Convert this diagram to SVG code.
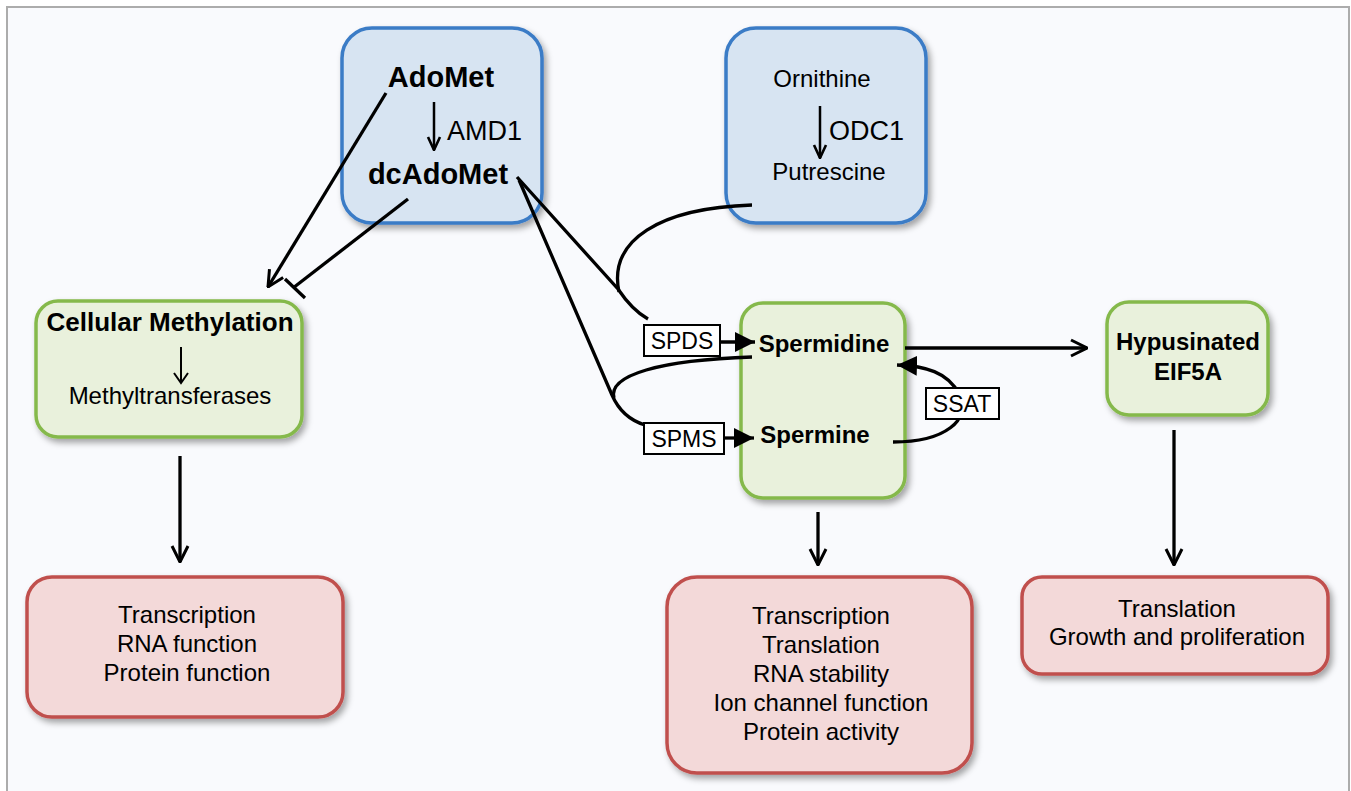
<svg xmlns="http://www.w3.org/2000/svg" width="1351" height="791" viewBox="0 0 1351 791">
<defs>
<filter id="sh" x="-10%" y="-10%" width="125%" height="130%"><feDropShadow dx="3" dy="4" stdDeviation="3" flood-color="#000" flood-opacity="0.35"/></filter>
<marker id="open" viewBox="0 0 20 20" refX="19" refY="10" markerWidth="20" markerHeight="20" orient="auto" markerUnits="userSpaceOnUse"><path d="M3,2 L19,10 L3,18" fill="none" stroke="#000" stroke-width="3" stroke-linejoin="miter"/></marker>
<marker id="openS" viewBox="0 0 16 16" refX="15" refY="8" markerWidth="16" markerHeight="16" orient="auto" markerUnits="userSpaceOnUse"><path d="M2,2 L15,8 L2,14" fill="none" stroke="#000" stroke-width="2.6" stroke-linejoin="miter"/></marker>
<marker id="fill" viewBox="0 0 20 20" refX="20" refY="10" markerWidth="20" markerHeight="20" orient="auto" markerUnits="userSpaceOnUse"><path d="M0,0 L20,10 L0,20 z" fill="#000"/></marker>
</defs>
<style>
.blue{fill:#d7e4f2;stroke:#3b7bc6;stroke-width:3.5}
.green{fill:#e9f1dc;stroke:#85b94b;stroke-width:3.5}
.red{fill:#f3d9d9;stroke:#c0504d;stroke-width:3.5}
.lab{fill:#fff;stroke:#000;stroke-width:2}
text{font-family:"Liberation Sans",Arial,sans-serif;fill:#000}
.t{font-size:24px;text-anchor:middle}
.b{font-size:24px;font-weight:bold;text-anchor:middle}
.big{font-size:29px;font-weight:bold;text-anchor:middle}
.en{font-size:27px}
.sm{font-size:23px;text-anchor:middle}
.c{fill:none;stroke:#000;stroke-width:3.3}
.ci{fill:none;stroke:#000;stroke-width:2.5}
</style>
<rect x="7" y="7" width="1342" height="800" fill="#f9fafd" stroke="#acacac" stroke-width="2"/>

<g id="adomet" filter="url(#sh)">
<rect class="blue" x="342" y="28" width="200" height="195" rx="30"/>
</g>
<g id="adomet-text">
<text class="big" x="441" y="87">AdoMet</text>
<text class="big" x="438" y="184">dcAdoMet</text>
<text class="en" x="447" y="140">AMD1</text>
<path class="ci" d="M434 102 L434 150" marker-end="url(#openS)"/>
</g>

<g id="ornithine" filter="url(#sh)">
<rect class="blue" x="726" y="28" width="200" height="195" rx="30"/>
</g>
<g id="ornithine-text">
<text class="t" x="822" y="87">Ornithine</text>
<text class="t" x="829" y="180">Putrescine</text>
<text class="en" x="829" y="140">ODC1</text>
<path class="ci" d="M820 106 L820 158" marker-end="url(#openS)"/>
</g>

<g id="methylation">
<rect class="green" x="36" y="301" width="266" height="136" rx="22" filter="url(#sh)"/>
<text class="b" x="170" y="331" style="font-size:26px">Cellular Methylation</text>
<path fill="none" stroke="#000" stroke-width="2" d="M181 347 L181 382"/>
<path fill="none" stroke="#000" stroke-width="2" d="M174 373 L181 383 L188 373"/>
<text class="t" x="170" y="404">Methyltransferases</text>
</g>

<g id="spermidine">
<rect class="green" x="741" y="303" width="164" height="195" rx="22" filter="url(#sh)"/>
<text class="b" x="824" y="352">Spermidine</text>
<text class="b" x="815" y="443">Spermine</text>
</g>

<g id="eif5a">
<rect class="green" x="1107" y="302" width="161" height="113" rx="22" filter="url(#sh)"/>
<text class="b" x="1188" y="350">Hypusinated</text>
<text class="b" x="1188" y="380">EIF5A</text>
</g>

<g id="out-left">
<rect class="red" x="27" y="577" width="316" height="140" rx="25" filter="url(#sh)"/>
<text class="t" x="187" y="623">Transcription</text>
<text class="t" x="187" y="652">RNA function</text>
<text class="t" x="187" y="681">Protein function</text>
</g>

<g id="out-mid">
<rect class="red" x="667" y="577" width="305" height="196" rx="30" filter="url(#sh)"/>
<text class="t" x="821" y="624">Transcription</text>
<text class="t" x="821" y="653">Translation</text>
<text class="t" x="821" y="682">RNA stability</text>
<text class="t" x="821" y="711">Ion channel function</text>
<text class="t" x="821" y="740">Protein activity</text>
</g>

<g id="out-right">
<rect class="red" x="1022" y="577" width="306" height="97" rx="20" filter="url(#sh)"/>
<text class="t" x="1177" y="617">Translation</text>
<text class="t" x="1177" y="645">Growth and proliferation</text>
</g>

<g id="connectors">
<path class="c" d="M386 93 L268 287" marker-end="url(#open)"/>
<path class="c" d="M408 199 L293 288"/>
<path class="c" d="M285 279 L305 298"/>
<path class="c" d="M517 177 L618 289 Q632 310 648 319"/>
<path class="c" d="M752 205 C660 208 608 240 619 292"/>
<path class="c" d="M519 180 L612 395 Q622 418 645 425"/>
<path class="c" d="M752 357 C660 360 608 375 614 398"/>
<path class="c" d="M720 342 L755 342" marker-end="url(#fill)"/>
<path class="c" d="M724 438 L754 438" marker-end="url(#fill)"/>
<path class="c" d="M905 348 L1087 348" marker-end="url(#open)"/>
<path class="c" d="M893 442 C945 442 972 420 959 394 C948 372 925 366 897 365" marker-end="url(#fill)"/>
<path class="c" d="M180 456 L180 562" marker-end="url(#open)"/>
<path class="c" d="M818 512 L818 565" marker-end="url(#open)"/>
<path class="c" d="M1174 430 L1174 565" marker-end="url(#open)"/>
</g>

<g id="spds">
<rect class="lab" x="644" y="325" width="76" height="31"/>
<text class="sm" x="682" y="349">SPDS</text>
</g>
<g id="spms">
<rect class="lab" x="644" y="423" width="80" height="31"/>
<text class="sm" x="684" y="447">SPMS</text>
</g>
<g id="ssat">
<rect class="lab" x="926" y="388" width="73" height="31"/>
<text class="sm" x="962" y="412">SSAT</text>
</g>
</svg>
